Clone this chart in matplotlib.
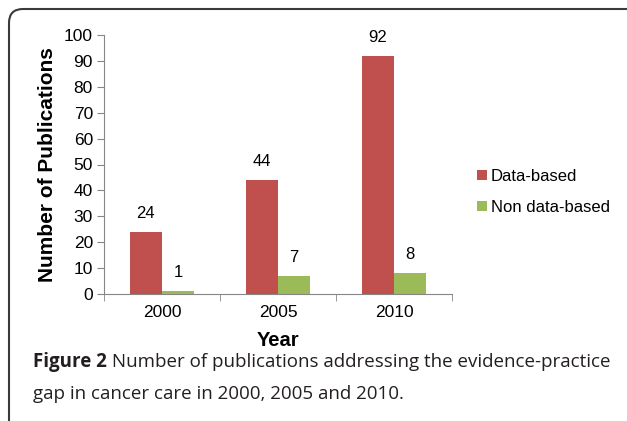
import numpy as np
import matplotlib
matplotlib.use("Agg")
import matplotlib.pyplot as plt
from matplotlib.path import Path
from matplotlib.patches import PathPatch

years = ["2000", "2005", "2010"]
data_based = [24, 44, 92]
non_data_based = [1, 7, 8]
series_names = ["Data-based", "Non data-based"]
colors = ["#C0504D", "#9BBB59"]
caption_bold = "Figure 2"
caption_rest = " Number of publications addressing the evidence-practice"
caption_line2 = "gap in cancer care in 2000, 2005 and 2010."

plt.rcParams['font.family'] = ['Liberation Sans', 'DejaVu Sans']

W, H = 627, 421
fig = plt.figure(figsize=(W / 100, H / 100), dpi=100)
ax = fig.add_axes([104 / W, 1 - 294 / H, 348 / W, 259 / H])

x = np.arange(len(years))
bw = 0.28
b1 = ax.bar(x - bw / 2, data_based, bw, color=colors[0], label=series_names[0])
b2 = ax.bar(x + bw / 2, non_data_based, bw, color=colors[1], label=series_names[1])
for bars, vals in ((b1, data_based), (b2, non_data_based)):
  for r, v in zip(bars, vals):
    ax.annotate(str(v), (r.get_x() + r.get_width() / 2, v), xytext=(0, 8),
                textcoords="offset points", ha="center", va="bottom", fontsize=12)

ax.set_xlim(-0.5, len(years) - 0.5)
ax.set_ylim(0, 100)
ax.set_yticks(range(0, 101, 10))
ax.set_xticks(x)
ax.set_xticklabels(years)
ax.set_xticks(np.arange(-0.5, len(years), 1), minor=True)
ax.tick_params(axis="x", which="major", length=0, labelsize=12.5, pad=8)
ax.tick_params(axis="x", which="minor", length=5, color="#868686", direction="out")
ax.tick_params(axis="y", length=5, color="#868686", labelsize=12.5, pad=3)
for s in ["top", "right"]:
  ax.spines[s].set_visible(False)
for s in ["left", "bottom"]:
  ax.spines[s].set_color("#868686")
ax.set_xlabel("Year", fontsize=14.5, fontweight="bold", labelpad=8)
ax.set_ylabel("Number of Publications", fontsize=15, fontweight="bold", labelpad=5)

ax.legend(loc="center left", bbox_to_anchor=(1.03, 0.394), frameon=False, fontsize=12,
          handlelength=0.6, handleheight=0.6, handletextpad=0.2, labelspacing=0.95)

# caption
t = fig.text(33 / W, 1 - 362 / H, caption_bold, fontsize=13.5, fontweight="bold",
             family="Open Sans", color="#231F20", va="center")
fig.canvas.draw()
bb = t.get_window_extent()
fig.text(bb.x1 / W, 1 - 362 / H, caption_rest, fontsize=13.5, family="Open Sans",
         color="#231F20", va="center")
fig.text(33 / W, 1 - 394 / H, caption_line2, fontsize=13.5, family="Open Sans",
         color="#231F20", va="center")

# border with rounded corner
r = 14
x0, y0 = 9, 9
verts = [(x0 / W, 0), (x0 / W, 1 - (y0 + r) / H), (x0 / W, 1 - y0 / H),
         ((x0 + r) / W, 1 - y0 / H), (1, 1 - y0 / H)]
codes = [Path.MOVETO, Path.LINETO, Path.CURVE3, Path.CURVE3, Path.LINETO]
fig.add_artist(PathPatch(Path(verts, codes), fill=False, edgecolor="#3a3a3a", lw=1.5,
                         transform=fig.transFigure))

fig.savefig("out.png", dpi=100)
